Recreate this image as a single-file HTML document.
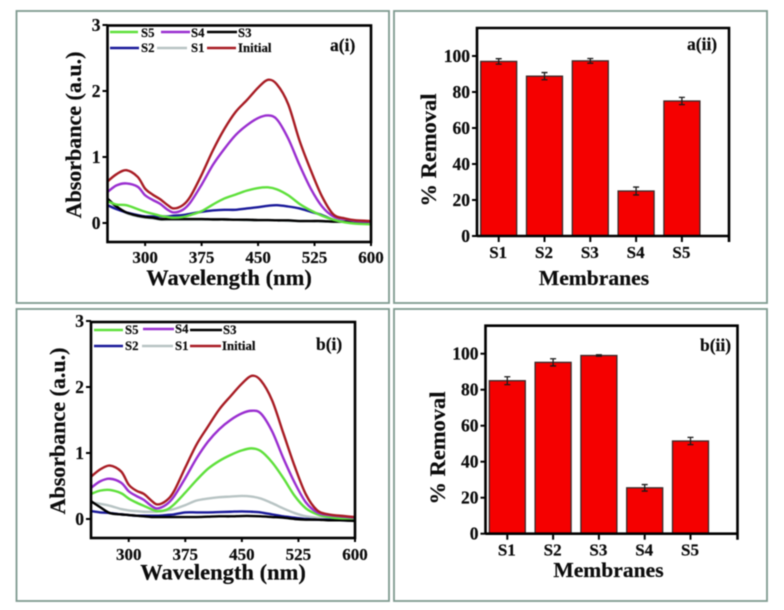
<!DOCTYPE html>
<html lang="en">
<head>
<meta charset="utf-8">
<title>Absorbance spectra and removal percentages</title>
<style>
html,body{margin:0;padding:0;background:#fff;}
svg{display:block;filter:blur(0.45px);}
text{font-family:"Liberation Serif",serif;font-weight:bold;fill:#0c0c0c;stroke:#0c0c0c;stroke-width:0.2px;}
.lg{font-size:12.8px;}
.tag{font-size:17.5px;}
.ttl{font-size:22px;}
</style>
</head>
<body>
<svg id="fig" width="784" height="610" viewBox="0 0 784 610" xmlns="http://www.w3.org/2000/svg">
<rect width="784" height="610" fill="#fff"/>
<g fill="none" stroke="#7f9a90" stroke-width="1.8">
<rect x="16.5" y="11" width="372.5" height="292"/>
<rect x="394" y="11" width="373" height="292"/>
<rect x="16.5" y="309" width="372.5" height="292"/>
<rect x="394" y="309" width="373" height="292"/>
</g>
<g id="a1"></g>
<g id="a2"></g>
<g id="b1"></g>
<g id="b2"></g>

<text class="tag" x="330" y="51">a(i)</text>
<text class="tag" x="687" y="50">a(ii)</text>
<text class="tag" x="316" y="350">b(i)</text>
<text class="tag" x="700" y="351">b(ii)</text>

<text class="ttl" x="229" y="285" text-anchor="middle" style="font-size:22.5px">Wavelength (nm)</text>
<text class="ttl" transform="translate(81,135) rotate(-90)" text-anchor="middle">Absorbance (a.u.)</text>
<text class="ttl" x="594" y="285" text-anchor="middle" style="font-size:21.6px">Membranes</text>
<text class="ttl" transform="translate(436,150) rotate(-90)" text-anchor="middle" style="font-size:22.5px">% Removal</text>
<text class="ttl" x="223" y="579.5" text-anchor="middle" style="font-size:22.5px">Wavelength (nm)</text>
<text class="ttl" transform="translate(65,431) rotate(-90)" text-anchor="middle">Absorbance (a.u.)</text>
<text class="ttl" x="608.5" y="577" text-anchor="middle" style="font-size:21.6px">Membranes</text>
<text class="ttl" transform="translate(445,448) rotate(-90)" text-anchor="middle" style="font-size:22.5px">% Removal</text>

<g>
<g stroke-width="2.6" fill="none">
<line x1="110" x2="138" y1="32" y2="32" stroke="#5fe03c"/>
<line x1="161" x2="190" y1="32" y2="32" stroke="#9a2fd0"/>
<line x1="207" x2="237" y1="32" y2="32" stroke="#000"/>
<line x1="110" x2="139" y1="48" y2="48" stroke="#1a1a9a"/>
<line x1="157" x2="187" y1="48" y2="48" stroke="#b8c4c4"/>
<line x1="207" x2="236" y1="48" y2="48" stroke="#a81c24"/>
</g>
<text class="lg" x="141" y="37">S5</text>
<text class="lg" x="191" y="37">S4</text>
<text class="lg" x="238" y="37">S3</text>
<text class="lg" x="141" y="52">S2</text>
<text class="lg" x="191" y="52">S1</text>
<text class="lg" x="238" y="52">Initial</text>
</g>

<g>
<g stroke-width="2.6" fill="none">
<line x1="94" x2="123" y1="330" y2="330" stroke="#5fe03c"/>
<line x1="143" x2="174" y1="329" y2="329" stroke="#9a2fd0"/>
<line x1="190" x2="222" y1="330" y2="330" stroke="#000"/>
<line x1="94" x2="123" y1="346" y2="346" stroke="#1a1a9a"/>
<line x1="142" x2="173" y1="346" y2="346" stroke="#b8c4c4"/>
<line x1="190" x2="221" y1="346" y2="346" stroke="#a81c24"/>
</g>
<text class="lg" x="125" y="334">S5</text>
<text class="lg" x="175" y="333">S4</text>
<text class="lg" x="223" y="334">S3</text>
<text class="lg" x="125" y="350">S2</text>
<text class="lg" x="175" y="350">S1</text>
<text class="lg" x="222" y="350">Initial</text>
</g>
</svg>

<script>
const wavelengths = [250,262,275,290,300,310,320,330,338,350,360,375,390,405,420,435,450,463,475,490,505,520,535,550,565,580,600];
const seriesNames = ["s1","s2","s3","s5","s4","initial"];
const seriesColors = ["#b8c4c4","#1a1a9a","#000000","#5fe03c","#9a2fd0","#a81c24"];

const aS1 = [.35,.24,.15,.10,.08,.07,.05,.05,.05,.05,.05,.05,.05,.05,.05,.04,.04,.04,.04,.03,.03,.03,.02,.02,.02,.02,.02];
const aS2 = [.27,.21,.16,.12,.10,.10,.10,.10,.11,.12,.14,.17,.19,.20,.20,.22,.24,.26,.27,.25,.22,.17,.12,.05,.02,.02,.02];
const aS3 = [.37,.25,.16,.11,.09,.08,.06,.06,.06,.06,.06,.06,.055,.055,.05,.05,.045,.045,.04,.04,.03,.03,.03,.02,.02,.02,.02];
const aS4 = [.47,.57,.60,.55,.42,.35,.29,.20,.16,.20,.31,.58,.88,1.12,1.33,1.48,1.59,1.63,1.57,1.28,.88,.52,.25,.10,.06,.03,.02];
const aS5 = [.33,.28,.27,.21,.17,.14,.11,.09,.08,.09,.12,.18,.28,.37,.43,.49,.53,.54,.51,.42,.29,.19,.11,.05,.01,-.01,-.02];
const aInitial = [.63,.74,.80,.70,.52,.43,.36,.27,.22,.27,.40,.73,1.10,1.42,1.68,1.86,2.05,2.17,2.10,1.80,1.25,.80,.40,.13,.07,.04,.03];

const bS1 = [.25,.23,.20,.15,.13,.12,.11,.11,.11,.13,.15,.21,.28,.31,.33,.34,.35,.34,.31,.24,.16,.09,.04,.02,.01,-.01,-.02];
const bS2 = [.12,.10,.09,.07,.06,.05,.05,.05,.05,.06,.07,.10,.10,.10,.105,.11,.115,.11,.10,.07,.04,.02,0,-.01,-.01,-.02,-.02];
const bS3 = [.27,.18,.09,.07,.06,.05,.04,.03,.03,.03,.03,.03,.03,.035,.04,.04,.045,.045,.04,.03,.02,0,-.01,-.01,-.02,-.02,-.03];
const bS4 = [.47,.57,.61,.55,.42,.35,.29,.20,.16,.22,.34,.62,.92,1.17,1.36,1.50,1.60,1.64,1.60,1.33,.92,.55,.25,.10,.06,.04,.02];
const bS5 = [.38,.43,.44,.39,.31,.25,.20,.15,.12,.14,.22,.40,.59,.76,.88,.97,1.04,1.07,1.03,.86,.62,.35,.16,.07,.03,.01,.01];
const bInitial = [.64,.75,.81,.72,.52,.43,.38,.28,.22,.28,.42,.78,1.13,1.40,1.66,1.86,2.05,2.17,2.10,1.80,1.30,.80,.37,.13,.07,.05,.03];

const xTickValues = [300,375,450,525,600];
const yTickValues = [0,1,2,3];
const membranes = ["S1","S2","S3","S4","S5"];
const removalTicks = [0,20,40,60,80,100];
const aRemoval = [97,88.8,97.3,25,75];
const aRemovalErr = [1.5,2,1.3,2.2,2];
const bRemoval = [85,95.2,99,25.5,51.5];
const bRemovalErr = [2.2,2,0.4,1.8,2];

const NS = "http://www.w3.org/2000/svg";
function make(parent, tag, attrs, txt) {
  const el = document.createElementNS(NS, tag);
  for (const k in attrs) el.setAttribute(k, attrs[k]);
  if (txt !== undefined) el.textContent = txt;
  parent.appendChild(el);
  return el;
}
function smoothPath(pts) {
  let d = "M" + pts[0][0].toFixed(2) + " " + pts[0][1].toFixed(2);
  for (let i = 0; i < pts.length - 1; i++) {
    const p0 = pts[Math.max(i - 1, 0)], p1 = pts[i], p2 = pts[i + 1], p3 = pts[Math.min(i + 2, pts.length - 1)];
    const c1x = p1[0] + (p2[0] - p0[0]) / 6, c1y = p1[1] + (p2[1] - p0[1]) / 6;
    const c2x = p2[0] - (p3[0] - p1[0]) / 6, c2y = p2[1] - (p3[1] - p1[1]) / 6;
    d += "C" + c1x.toFixed(2) + " " + c1y.toFixed(2) + " " + c2x.toFixed(2) + " " + c2y.toFixed(2) + " " + p2[0].toFixed(2) + " " + p2[1].toFixed(2);
  }
  return d;
}

function drawSpectrum(root, box, seriesValues) {
  const xScale = w => box.left + (w - 250) / 350 * (box.right - box.left);
  const yScale = v => box.zero - v * box.unit;
  seriesValues.forEach((vals, i) => {
    const line = make(root, "path", {d: smoothPath(vals.map((v, j) => [xScale(wavelengths[j]), yScale(v)])), fill: "none", stroke: seriesColors[i], "stroke-width": 2.4, "stroke-linejoin": "round"});
    
    
  });
  const frame = make(root, "rect", {x: box.left, y: box.top, width: box.right - box.left, height: box.bottom - box.top, fill: "none", stroke: "#000", "stroke-width": 2.6});
  
  
  xTickValues.forEach(t => {
    const x = xScale(t);
    const tick = make(root, "line", {x1: x, x2: x, y1: box.bottom, y2: box.bottom + 4, stroke: "#000", "stroke-width": 2});
    
    
    const label = make(root, "text", {x: x, y: box.bottom + box.labelGap, "text-anchor": "middle", style: "font-size:17px"}, t);
    
    
  });
  yTickValues.forEach(t => {
    const y = yScale(t);
    const tick = make(root, "line", {x1: box.left - 5, x2: box.left, y1: y, y2: y, stroke: "#000", "stroke-width": 2});
    
    
    const label = make(root, "text", {x: box.left - 7, y: y + 6, "text-anchor": "end", style: "font-size:17.5px"}, t);
    
    
  });
}

function drawBars(root, box, values, errors) {
  const xScale = i => box.firstBar + i * 45.8;
  const yScale = v => box.bottom - v * 1.8;
  values.forEach((v, i) => {
    const x = xScale(i), y = yScale(v);
    const bar = make(root, "rect", {x: x - 18, y: y, width: 36, height: box.bottom - y, fill: "#f50000", stroke: "#3a2a2a", "stroke-width": 1.3});
    
    
    const hi = yScale(v + errors[i]), lo = yScale(v - errors[i]);
    const err = make(root, "path", {d: "M" + (x - 3) + " " + hi + "H" + (x + 3) + "M" + x + " " + hi + "V" + lo + "M" + (x - 3) + " " + lo + "H" + (x + 3), fill: "none", stroke: "#1a1a1a", "stroke-width": 1.3});
    
    
    const tick = make(root, "line", {x1: x, x2: x, y1: box.bottom, y2: box.bottom + 6, stroke: "#000", "stroke-width": 2});
    
    
    const label = make(root, "text", {x: x - 0.5, y: box.bottom + 22, "text-anchor": "middle", style: "font-size:17px"}, membranes[i]);
    
    
  });
  const frame = make(root, "path", {d: "M" + box.left + " " + box.bottom + "V" + box.top + "H" + box.right + "V" + (box.bottom + 6) + "M" + box.left + " " + box.bottom + "H" + box.right, fill: "none", stroke: "#000", "stroke-width": 2.6});
  
  
  removalTicks.forEach(t => {
    const y = yScale(t);
    const tick = make(root, "line", {x1: box.left - 5, x2: box.left, y1: y, y2: y, stroke: "#000", "stroke-width": 2});
    
    
    const label = make(root, "text", {x: box.left - 7, y: y + 6, "text-anchor": "end", style: "font-size:17.5px"}, t);
    
    
  });
}

drawSpectrum(document.getElementById("a1"), {left: 107.5, right: 371, top: 25.5, bottom: 242, zero: 223, unit: 66, labelGap: 21}, [aS1, aS2, aS3, aS5, aS4, aInitial]);
drawSpectrum(document.getElementById("b1"), {left: 91, right: 355, top: 322, bottom: 538, zero: 519, unit: 66, labelGap: 22}, [bS1, bS2, bS3, bS5, bS4, bInitial]);
drawBars(document.getElementById("a2"), {left: 477, right: 729, top: 28, bottom: 236, firstBar: 498.7}, aRemoval, aRemovalErr);
drawBars(document.getElementById("b2"), {left: 485.5, right: 737.5, top: 325.7, bottom: 533.7, firstBar: 507.3}, bRemoval, bRemovalErr);
</script>
</body>
</html>
